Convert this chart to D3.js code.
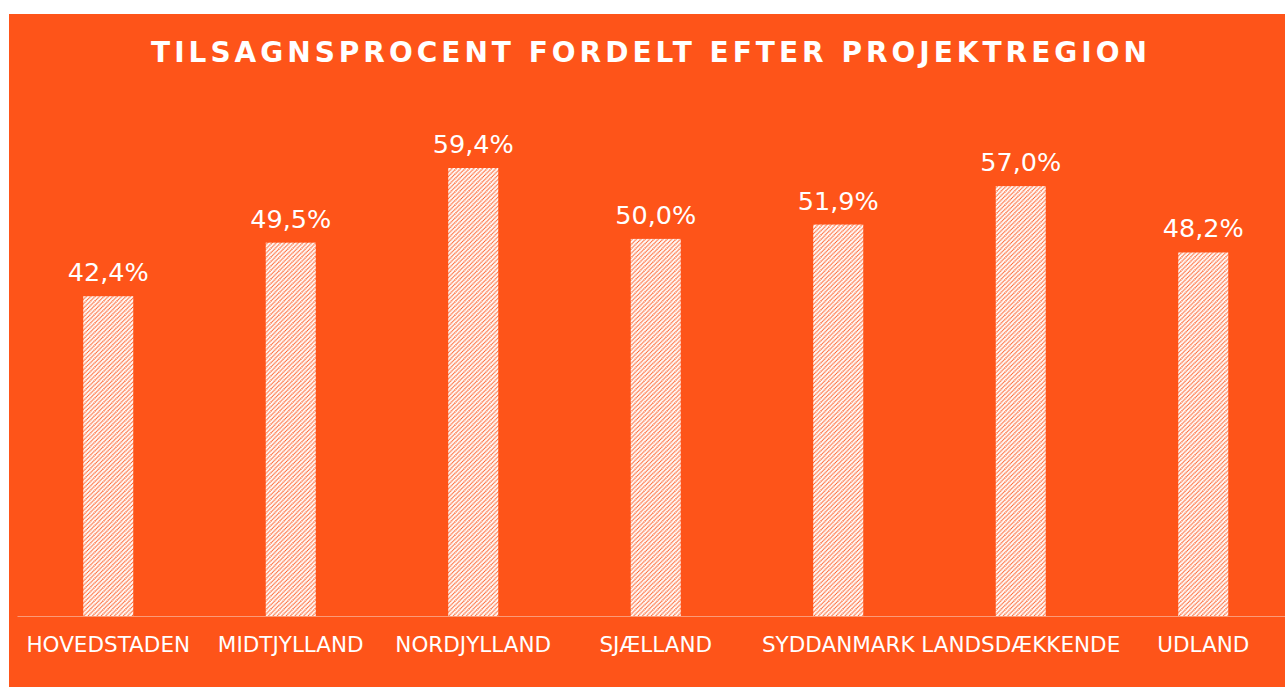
<!DOCTYPE html>
<html>
<head>
<meta charset="utf-8">
<script src="https://cdn.jsdelivr.net/npm/d3@7"></script>
<style>
  body { margin: 0; background: #fff; }
  svg { display: block; }
</style>
</head>
<body>
<svg width="1285" height="687"></svg>
<script>
var regions = ["HOVEDSTADEN", "MIDTJYLLAND", "NORDJYLLAND", "SJÆLLAND", "SYDDANMARK", "LANDSDÆKKENDE", "UDLAND"];
var rates = [42.4, 49.5, 59.4, 50.0, 51.9, 57.0, 48.2];
var title = "TILSAGNSPROCENT FORDELT EFTER PROJEKTREGION";

var svg = d3.select("svg"),
    orange = "#fe5419",
    font = "Verdana, 'DejaVu Sans', sans-serif";

// background panel (chart area is offset from the page edge)
svg.append("rect")
    .attr("x", 9).attr("y", 14)
    .attr("width", 1285 - 9).attr("height", 687 - 14)
    .attr("fill", orange);

// diagonal hatch for the bars
var pat = svg.append("defs").append("pattern")
    .attr("id", "hatch")
    .attr("patternUnits", "userSpaceOnUse")
    .attr("width", 4.4).attr("height", 4.4);
pat.append("rect").attr("width", 4.4).attr("height", 4.4).attr("fill", "#fff");
pat.append("path")
    .attr("d", "M-1,1 l2,-2 M0,4.4 l4.4,-4.4 M3.4,5.4 l2,-2")
    .attr("stroke", orange)
    .attr("stroke-width", 1.5)
    .attr("stroke-dasharray", "1.1,0.6");

var x = d3.scaleBand()
    .domain(regions)
    .range([17, 17 + 182.5 * regions.length])
    .paddingInner(0.726)
    .paddingOuter(0.363);

var y = d3.scaleLinear()
    .domain([0, 59.4])
    .range([616, 168]);

svg.selectAll(".bar")
    .data(rates)
    .enter().append("rect")
    .attr("class", "bar")
    .attr("x", function(d, i) { return x(regions[i]); })
    .attr("y", function(d) { return y(d); })
    .attr("width", x.bandwidth())
    .attr("height", function(d) { return y(0) - y(d); })
    .attr("fill", "url(#hatch)");

// value labels
svg.selectAll(".val")
    .data(rates)
    .enter().append("text")
    .attr("class", "val")
    .attr("x", function(d, i) { return x(regions[i]) + x.bandwidth() / 2; })
    .attr("y", function(d) { return y(d) - 15; })
    .attr("text-anchor", "middle")
    .attr("fill", "#fff")
    .style("font-family", font)
    .style("font-size", "25.5px")
    .text(function(d) { return d.toFixed(1).replace(".", ",") + "%"; });

// x axis
var xAxis = svg.append("g")
    .attr("transform", "translate(0,616)")
    .call(d3.axisBottom(x).tickSize(0).tickPadding(21));
xAxis.select(".domain").attr("stroke", "#fb9a78").attr("stroke-width", 1.2);
xAxis.selectAll("text")
    .attr("fill", "#fff")
    .style("font-family", font)
    .style("font-size", "21.5px");

// title
svg.append("text")
    .attr("x", 651).attr("y", 62)
    .attr("text-anchor", "middle")
    .attr("fill", "#fff")
    .style("font-family", font)
    .style("font-weight", "bold")
    .style("font-size", "28px")
    .style("letter-spacing", "4px")
    .text(title);
</script>
</body>
</html>
